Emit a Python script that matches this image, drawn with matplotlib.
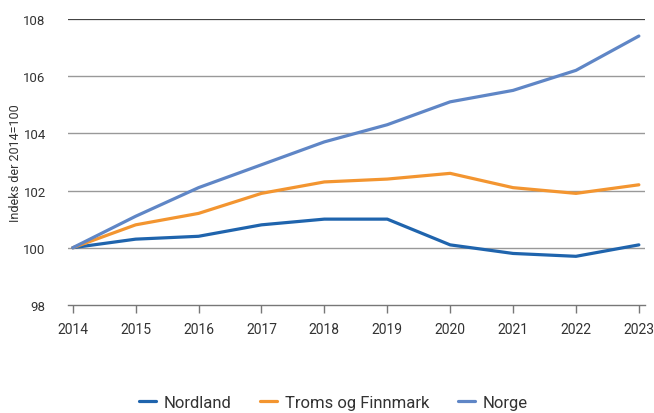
import matplotlib.pyplot as plt

plt.rcParams['font.family'] = ['Roboto', 'DejaVu Sans']

years = [2014, 2015, 2016, 2017, 2018, 2019, 2020, 2021, 2022, 2023]
nordland = [100.0, 100.3, 100.4, 100.8, 101.0, 101.0, 100.1, 99.8, 99.7, 100.1]
troms = [100.0, 100.8, 101.2, 101.9, 102.3, 102.4, 102.6, 102.1, 101.9, 102.2]
norge = [100.0, 101.1, 102.1, 102.9, 103.7, 104.3, 105.1, 105.5, 106.2, 107.4]

fig = plt.figure(figsize=(6.54, 4.14), dpi=100)
ax = fig.add_axes([0.104, 0.261, 0.882, 0.691])

ax.plot(years, nordland, color='#1f64ad', lw=2.3, label='Nordland', solid_capstyle='round')
ax.plot(years, troms, color='#f39530', lw=2.3, label='Troms og Finnmark', solid_capstyle='round')
ax.plot(years, norge, color='#5f86c6', lw=2.3, label='Norge', solid_capstyle='round')

ax.set_xlim(2013.925, 2023.095)
ax.set_ylim(98, 108)
ax.set_yticks([98, 100, 102, 104, 106, 108])
ax.set_xticks(years)

for y in [100, 102, 104, 106]:
    ax.axhline(y, color='#999999', lw=1.0, zorder=0)
ax.axhline(108, color='#444444', lw=0.9, zorder=0)

for s in ['top', 'right', 'left']:
    ax.spines[s].set_visible(False)
ax.spines['bottom'].set_color('#777777')
ax.spines['bottom'].set_linewidth(1.0)

ax.tick_params(axis='x', direction='out', length=6, width=1, color='#777777',
               labelsize=10, labelcolor='#333333', pad=6)
ax.tick_params(axis='y', length=0, labelsize=9.5, labelcolor='#333333', pad=16)

ax.set_ylabel('Indeks der 2014=100', fontsize=9, color='#333333')
ax.yaxis.set_label_coords(-0.080, 0.5)

fig.legend(loc='center', bbox_to_anchor=(0.51, 0.025), ncol=3, frameon=False,
           fontsize=12, handlelength=1.0, columnspacing=1.7, handletextpad=0.5,
           labelcolor='#333333')

fig.savefig('out.png', dpi=100)
